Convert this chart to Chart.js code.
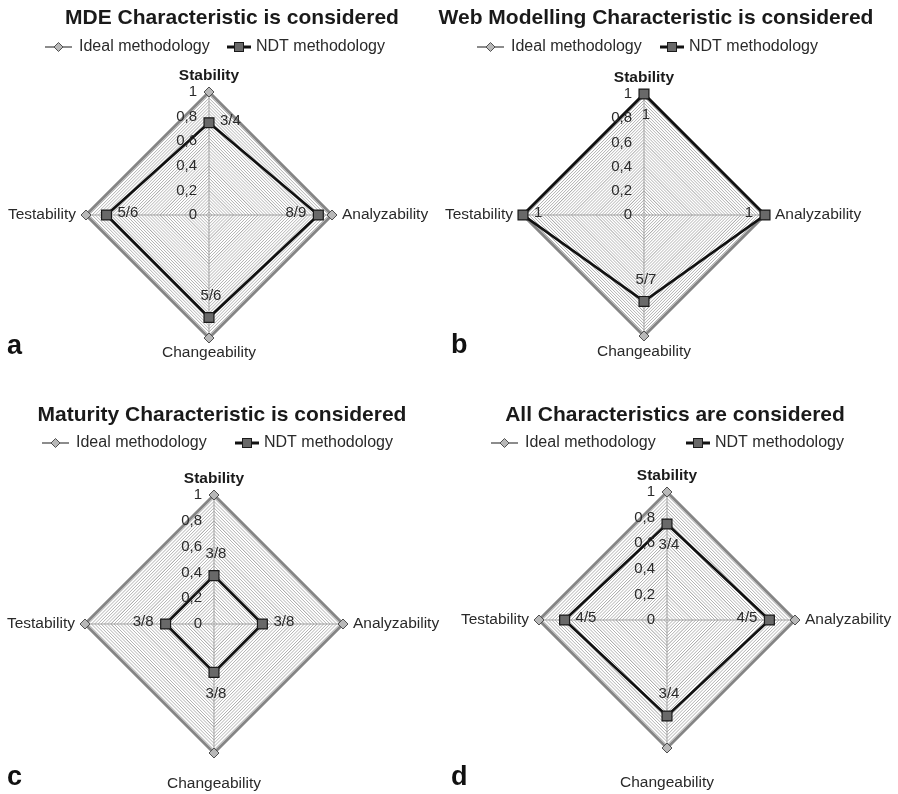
<!DOCTYPE html>
<html>
<head>
<meta charset="utf-8">
<script src="https://cdn.jsdelivr.net/npm/chart.js@4.4.1/dist/chart.umd.min.js"></script>
<style>
body { margin: 0; background: #fff; }
#wrap { position: relative; width: 898px; height: 794px; }
canvas { position: absolute; }
</style>
</head>
<body>
<div id="wrap">
  <canvas id="mde" width="449" height="397" style="left:0;top:0"></canvas>
  <canvas id="web" width="469" height="397" style="left:429px;top:0"></canvas>
  <canvas id="maturity" width="449" height="397" style="left:0;top:397px"></canvas>
  <canvas id="all" width="469" height="397" style="left:429px;top:397px"></canvas>
</div>
<script>
// values
var axes = ['Stability', 'Analyzability', 'Changeability', 'Testability'];
var seriesNames = ['Ideal methodology', 'NDT methodology'];
var ideal = [1, 1, 1, 1];

var ndtMde = [3 / 4, 8 / 9, 5 / 6, 5 / 6];
var labelsMde = ['3/4', '8/9', '5/6', '5/6'];
var ndtWeb = [1, 1, 5 / 7, 1];
var labelsWeb = ['1', '1', '5/7', '1'];
var ndtMaturity = [3 / 8, 3 / 8, 3 / 8, 3 / 8];
var labelsMaturity = ['3/8', '3/8', '3/8', '3/8'];
var ndtAll = [3 / 4, 4 / 5, 3 / 4, 4 / 5];
var labelsAll = ['3/4', '4/5', '3/4', '4/5'];

var tickValues = [0, 0.2, 0.4, 0.6, 0.8, 1];
var tickLabels = ['0', '0,2', '0,4', '0,6', '0,8', '1'];

var titles = [
  'MDE Characteristic is considered',
  'Web Modelling Characteristic is considered',
  'Maturity Characteristic is considered',
  'All Characteristics are considered'
];
var letters = ['a', 'b', 'c', 'd'];

var FONT = '"Liberation Sans", Arial, sans-serif';

// layout of each panel (right column canvases start 20px early)
var panels = [
  { id: 'mde', ndt: ndtMde, labels: labelsMde,
    pad: { left: 86, right: 117, top: 92, bottom: 59 },
    titleX: 232, legendX: [45, 227], legendY: 47, letterX: 7, letterY: 354,
    spots: ['right', 'left', 'above', 'right'], bottomGap: 15 },
  { id: 'web', ndt: ndtWeb, labels: labelsWeb,
    pad: { left: 94, right: 133, top: 94, bottom: 61 },
    titleX: 227, legendX: [48, 231], legendY: 47, letterX: 22, letterY: 353,
    spots: ['below', 'left', 'above', 'right'], bottomGap: 16 },
  { id: 'maturity', ndt: ndtMaturity, labels: labelsMaturity,
    pad: { left: 85, right: 106, top: 98, bottom: 41 },
    titleX: 222, legendX: [42, 235], legendY: 46, letterX: 7, letterY: 388,
    spots: ['above', 'right', 'below', 'left'], bottomGap: 31 },
  { id: 'all', ndt: ndtAll, labels: labelsAll,
    pad: { left: 110, right: 103, top: 95, bottom: 46 },
    titleX: 246, legendX: [62, 257], legendY: 46, letterX: 22, letterY: 388,
    spots: ['below', 'left', 'above', 'right'], bottomGap: 35 }
];

function textPlugin(p, idx) {
  return {
    id: 'texts' + idx,
    afterDraw: function (chart) {
      var ctx = chart.ctx;
      var r = chart.scales.r;
      ctx.save();

      // title
      ctx.fillStyle = '#1a1a1a';
      ctx.font = 'bold 21px ' + FONT;
      ctx.textAlign = 'center';
      ctx.textBaseline = 'middle';
      ctx.fillText(titles[idx], p.titleX, 18);

      // legend
      var y = p.legendY;
      var x0 = p.legendX[0];
      ctx.strokeStyle = '#8c8c8c';
      ctx.lineWidth = 2;
      ctx.beginPath(); ctx.moveTo(x0, y); ctx.lineTo(x0 + 27, y); ctx.stroke();
      ctx.beginPath();
      ctx.moveTo(x0 + 13.5, y - 4.5); ctx.lineTo(x0 + 18, y);
      ctx.lineTo(x0 + 13.5, y + 4.5); ctx.lineTo(x0 + 9, y); ctx.closePath();
      ctx.fillStyle = '#b8b8b8'; ctx.fill();
      ctx.strokeStyle = '#505050'; ctx.lineWidth = 1; ctx.stroke();

      var x1 = p.legendX[1];
      ctx.strokeStyle = '#111';
      ctx.lineWidth = 3;
      ctx.beginPath(); ctx.moveTo(x1, y); ctx.lineTo(x1 + 24, y); ctx.stroke();
      ctx.fillStyle = '#696969';
      ctx.fillRect(x1 + 7.5, y - 4.5, 9, 9);
      ctx.strokeStyle = '#1a1a1a'; ctx.lineWidth = 1;
      ctx.strokeRect(x1 + 7.5, y - 4.5, 9, 9);

      ctx.fillStyle = '#2a2a2a';
      ctx.font = '16px ' + FONT;
      ctx.textAlign = 'left';
      ctx.fillText(seriesNames[0], x0 + 34, y);
      ctx.fillText(seriesNames[1], x1 + 29, y);

      // radial tick labels, left of the vertical axis
      ctx.font = '15px ' + FONT;
      ctx.textAlign = 'right';
      ctx.fillStyle = '#2a2a2a';
      tickValues.forEach(function (v, i) {
        var ty = r.yCenter - r.getDistanceFromCenterForValue(v);
        ctx.fillText(tickLabels[i], r.xCenter - 12, ty);
      });

      // axis names
      var gaps = [16, 10, p.bottomGap, 10];
      axes.forEach(function (name, i) {
        var pos = r.getPointPosition(i, r.drawingArea + gaps[i]);
        ctx.font = (i === 0 ? 'bold ' : '') + '15.5px ' + FONT;
        ctx.fillStyle = i === 0 ? '#1a1a1a' : '#2a2a2a';
        ctx.textAlign = i === 1 ? 'left' : (i === 3 ? 'right' : 'center');
        ctx.fillText(name, pos.x, pos.y);
      });

      // value labels next to NDT points
      var pts = chart.getDatasetMeta(1).data;
      ctx.font = '15px ' + FONT;
      ctx.fillStyle = '#2a2a2a';
      p.labels.forEach(function (txt, i) {
        var pt = pts[i];
        var spot = p.spots[i];
        if (spot === 'right') { ctx.textAlign = 'left'; ctx.fillText(txt, pt.x + 11, pt.y - 2); }
        else if (spot === 'left') { ctx.textAlign = 'right'; ctx.fillText(txt, pt.x - 12, pt.y - 2); }
        else if (spot === 'above') { ctx.textAlign = 'center'; ctx.fillText(txt, pt.x + 2, pt.y - 22); }
        else { ctx.textAlign = 'center'; ctx.fillText(txt, pt.x + 2, pt.y + 21); }
      });

      // panel letter
      ctx.font = 'bold 27px ' + FONT;
      ctx.fillStyle = '#111';
      ctx.textAlign = 'left';
      ctx.textBaseline = 'alphabetic';
      ctx.fillText(letters[idx], p.letterX, p.letterY);

      ctx.restore();
    }
  };
}

panels.forEach(function (p, idx) {
  new Chart(document.getElementById(p.id), {
    type: 'radar',
    data: {
      labels: axes,
      datasets: [{
        label: seriesNames[0],
        data: ideal,
        order: 2,
        fill: false,
        borderColor: '#858585',
        borderWidth: 3,
        borderJoinStyle: 'miter',
        pointStyle: 'rectRot',
        pointRadius: 5,
        pointBackgroundColor: '#b8b8b8',
        pointBorderColor: '#505050',
        pointBorderWidth: 1
      }, {
        label: seriesNames[1],
        data: p.ndt,
        order: 1,
        fill: false,
        borderColor: '#111',
        borderWidth: 2.7,
        borderJoinStyle: 'miter',
        pointStyle: 'rect',
        pointRadius: 7,
        pointBackgroundColor: '#696969',
        pointBorderColor: '#1a1a1a',
        pointBorderWidth: 1.2
      }]
    },
    options: {
      responsive: false,
      animation: false,
      layout: { padding: p.pad },
      scales: {
        r: {
          min: 0,
          max: 1,
          ticks: { display: false, stepSize: 0.025 },
          grid: {
            lineWidth: 1,
            color: function (c) {
              var v = c.tick ? c.tick.value * 5 : 0;
              return Math.abs(v - Math.round(v)) < 1e-6 ? '#999999' : '#b2b2b2';
            }
          },
          angleLines: { color: '#a0a0a0', lineWidth: 1 },
          pointLabels: { display: false }
        }
      },
      plugins: {
        legend: { display: false },
        tooltip: { enabled: false }
      }
    },
    plugins: [textPlugin(p, idx)]
  });
});
</script>
</body>
</html>
